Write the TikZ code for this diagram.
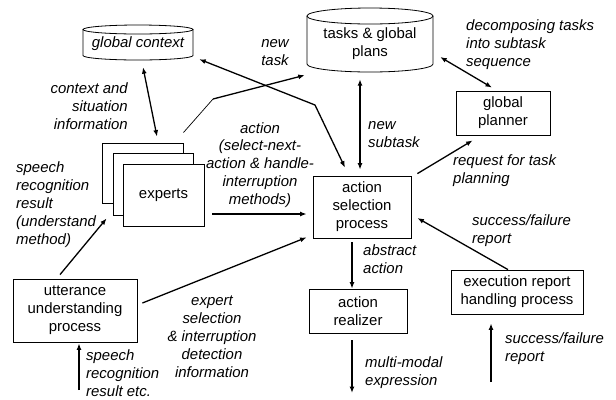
\documentclass[tikz,border=0pt]{standalone}
\usepackage{fontspec}
\setmainfont{Liberation Sans}
\usetikzlibrary{arrows.meta,calc}
\newcommand\myfs{\fontsize{15}{18}\selectfont}
\begin{document}
\begin{tikzpicture}[x=1bp,y=-1bp,
  box/.style={draw,line width=0.8bp,fill=white,align=center,inner sep=0pt,font=\myfs},
  txt/.style={align=center,inner sep=0pt,font=\myfs},
  lbl/.style={inner sep=0pt,font=\myfs\itshape},
  cyl/.style={line width=0.8bp},
  arr/.style={line width=1.3bp,-{Latex[length=6.5bp,width=5bp]}},
  darr/.style={line width=1.3bp,{Latex[length=6.5bp,width=5bp]}-{Latex[length=6.5bp,width=5bp]}}
]
\useasboundingbox (0,0) rectangle (616,399);

% global context cylinder
\node[inner sep=0,minimum width=110bp,minimum height=35bp] (gctx) at (138,42.5) {};
\draw[cyl] (83,29.5) -- (83,55.5) arc[start angle=180,end angle=360,x radius=55bp,y radius=4.5bp] -- (193,29.5);
\draw[cyl] (138,29.5) ellipse[x radius=55bp,y radius=4.5bp];
\node[lbl] (gctxt) at (138,44) {global context};

% tasks cylinder
\node[inner sep=0,minimum width=126bp,minimum height=64bp] (tasks) at (370,40) {};
\draw[cyl] (307,16) -- (307,64) arc[start angle=180,end angle=360,x radius=63bp,y radius=8bp] -- (433,16);
\draw[cyl] (370,16) ellipse[x radius=63bp,y radius=8bp];
\node[txt] (taskstxt) at (370,44) {tasks \& global\\plans};

% boxes
\node[box,minimum width=94bp,minimum height=44bp] (planner) at (503,113) {global\\planner};
\node[box,minimum width=98bp,minimum height=62bp] (actsel) at (362,207) {action\\selection\\process};
\node[box,minimum width=98bp,minimum height=44bp] (realizer) at (358,311) {action\\realizer};
\node[box,minimum width=132bp,minimum height=44bp] (exec) at (517,292) {execution report\\handling process};
\node[box,minimum width=124bp,minimum height=63bp] (utter) at (75,310.5) {utterance\\understanding\\process};
\node[box,minimum width=81bp,minimum height=60bp] (expB) at (142.5,173) {};
\node[box,minimum width=80bp,minimum height=62bp] (expM) at (153,184) {};
\node[box,minimum width=81bp,minimum height=62bp] (experts) at (163.5,195) {experts};

% connectors
\draw[darr] ($(gctx.south)+(5,7)$) -- ($(expB.north)+(14.5,-6)$);
\draw[line width=0.7bp] ($(expB.north east)+(0,-10)$) -- (213,99);
\draw[arr] (213,99) -- ($(tasks.south west)+(-2,3)$);
\draw[darr] ($(gctx.south east)+(6,-1)$) -- (315,105) -- ($(actsel.north)+(-17,-8)$);
\draw[darr] ($(tasks.south)+(-10,7)$) -- ($(actsel.north)+(-2,-6)$);
\draw[darr] ($(tasks.east)+(7,17)$) -- ($(planner.north)+(-11,-3)$);
\draw[arr] ($(actsel.north east)+(6,-2)$) -- ($(planner.south west)+(17,5)$);
\draw[arr] ($(experts.east)+(8,19)$) -- ($(actsel.west)+(-6,7)$);
\draw[arr] ($(utter.east)+(5,-7.5)$) -- ($(actsel.south west)+(-6,-1)$);
\draw[arr] ($(utter.north)+(-15,-4)$) -- ($(expM.south west)+(-6,3)$);
\coordinate (inU) at (79,390);
\draw[arr] (inU) -- ($(utter.south)+(4,1)$);
\draw[arr] ($(actsel.south)+(-10,4)$) -- ($(realizer.north)+(-6,0)$);
\coordinate (outR) at (352,393);
\draw[arr] ($(realizer.south)+(-6,7)$) -- (outR);
\draw[arr] ($(exec.north)+(-9,0)$) -- ($(actsel.east)+(6,11)$);
\coordinate (inE) at (491,382);
\draw[arr] (inE) -- ($(exec.south)+(-26,9)$);

% labels
\node[lbl,align=center] at (275,53) {new\\task};
\node[lbl,align=right,anchor=east] at (128,106) {context and\\situation\\information};
\node[lbl,align=left,anchor=west] at (466,45) {decomposing tasks\\into subtask\\sequence};
\node[lbl,align=left,anchor=west] at (368,135) {new\\subtask};
\node[lbl,align=center] at (260,165) {action\\(select-next-\\action \& handle-\\interruption\\methods)};
\node[lbl,align=left,anchor=west] at (453,171) {request for task\\planning};
\node[lbl,align=left,anchor=west] at (16,204.5) {speech\\recognition\\result\\(understand\\method)};
\node[lbl,align=left,anchor=west] at (363,259) {abstract\\action};
\node[lbl,align=left,anchor=west] at (472,231) {success/failure\\report};
\node[lbl,align=left,anchor=west] at (505,348.5) {success/failure\\report};
\node[lbl,align=left,anchor=west] at (365,372.5) {multi-modal\\expression};
\node[lbl,align=center] at (212,336.5) {expert\\selection\\\& interruption\\detection\\information};
\node[lbl,align=left,anchor=west] at (86,373) {speech\\recognition\\result etc.};
\end{tikzpicture}
\end{document}
